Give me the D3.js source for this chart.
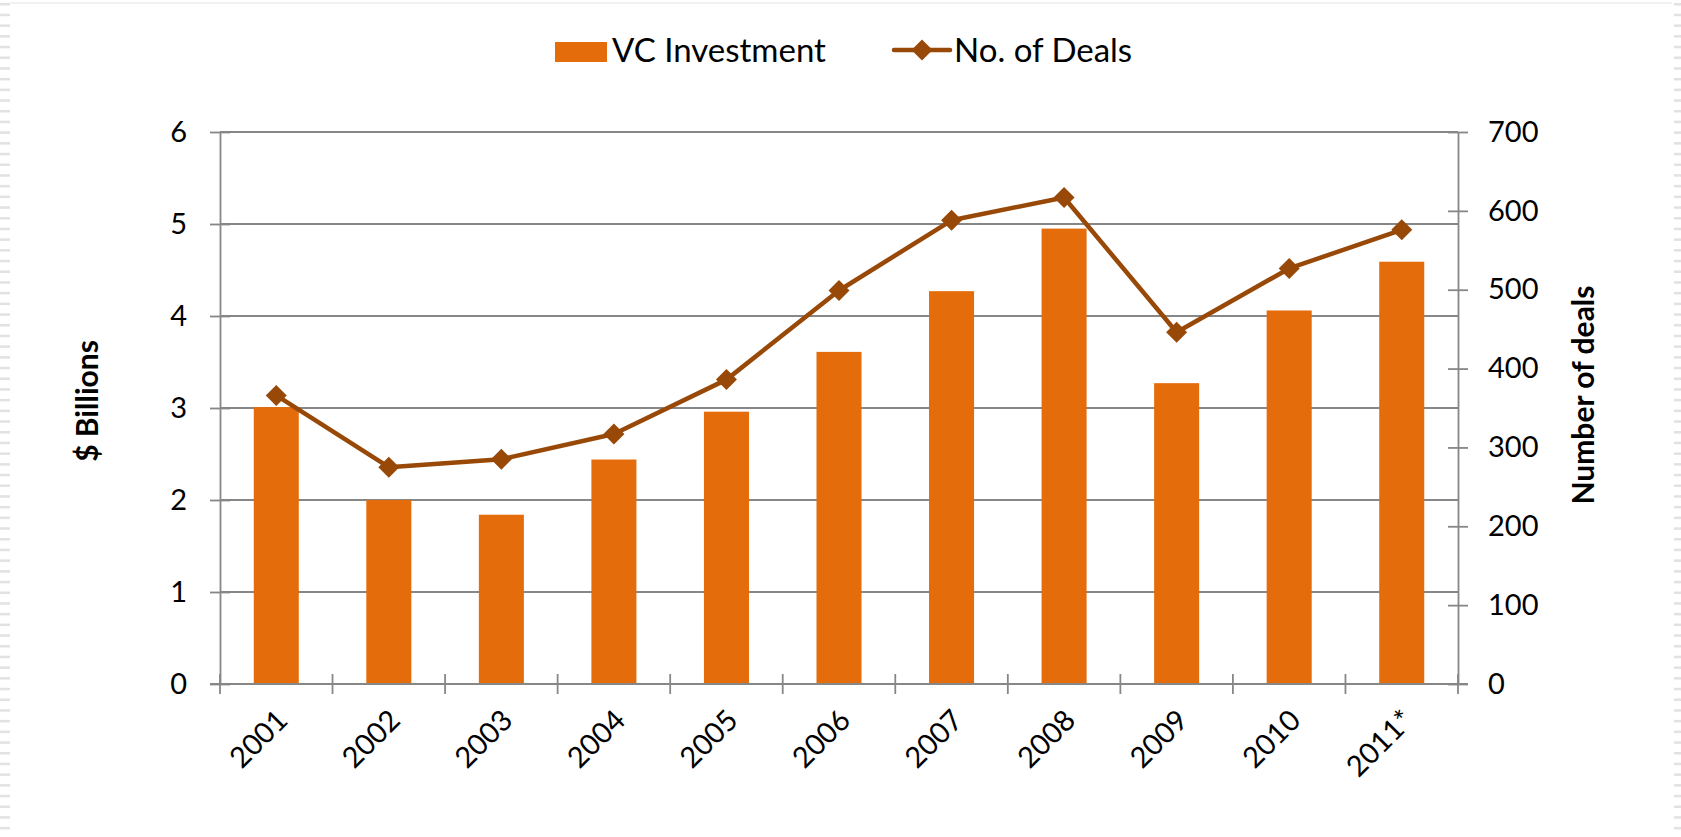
<!DOCTYPE html>
<html>
<head>
<meta charset="utf-8">
<script src="https://cdn.jsdelivr.net/npm/d3@7"></script>
<style>
  html, body { margin: 0; padding: 0; background: #ffffff; }
  svg { display: block; }
  text { font-family: Lato, "Liberation Sans", sans-serif; fill: #000; }
</style>
</head>
<body>
<script>
// ---- data ----
const categories = ["2001", "2002", "2003", "2004", "2005", "2006", "2007", "2008", "2009", "2010", "2011*"];
const vcInvestment = [3.01, 2.00, 1.84, 2.44, 2.96, 3.61, 4.27, 4.95, 3.27, 4.06, 4.59];
const numDeals = [366, 275, 285, 317, 386, 499, 588, 617, 446, 527, 576];
const leftTicks = [0, 1, 2, 3, 4, 5, 6];
const rightTicks = [0, 100, 200, 300, 400, 500, 600, 700];
const seriesNames = ["VC Investment", "No. of Deals"];
const axisTitles = ["$ Billions", "Number of deals"];

// ---- layout ----
const W = 1681, H = 837;
const plot = { left: 220, right: 1458, top: 132, bottom: 684 };
const barColor = "#E46C0A";
const lineColor = "#984807";
const gridColor = "#878787";
const tickFont = 29;

const svg = d3.select("body").append("svg").attr("width", W).attr("height", H);

// frame decorations (light border artifacts)
const deco = svg.append("g");
deco.append("line").attr("x1", 10).attr("x2", W - 9).attr("y1", 3).attr("y2", 3)
  .attr("stroke", "#ececec").attr("stroke-width", 1.5);
const dashYs = d3.range(3, H, 10.7);
deco.selectAll("rect.dl").data(dashYs).enter().append("rect")
  .attr("x", 0).attr("y", d => d).attr("width", 10).attr("height", 2.5).attr("fill", "#e2e2e2");
deco.selectAll("rect.dr").data(dashYs).enter().append("rect")
  .attr("x", W - 7).attr("y", d => d).attr("width", 7).attr("height", 2.5).attr("fill", "#e2e2e2");

// ---- scales ----
const x = d3.scaleBand().domain(categories).range([plot.left, plot.right]).paddingInner(0).paddingOuter(0);
const yL = d3.scaleLinear().domain([0, 6]).range([plot.bottom, plot.top]);
const yR = d3.scaleLinear().domain([0, 700]).range([plot.bottom, plot.top]);

// gridlines
svg.append("g").selectAll("line").data(leftTicks.filter(d => d > 0)).enter().append("line")
  .attr("x1", plot.left).attr("x2", plot.right)
  .attr("y1", d => yL(d)).attr("y2", d => yL(d))
  .attr("stroke", gridColor).attr("stroke-width", 1.8);

// bars
const barW = x.bandwidth() * 0.4;
svg.append("g").selectAll("rect").data(categories).enter().append("rect")
  .attr("x", d => x(d) + (x.bandwidth() - barW) / 2)
  .attr("width", barW)
  .attr("y", (d, i) => yL(vcInvestment[i]))
  .attr("height", (d, i) => plot.bottom - yL(vcInvestment[i]))
  .attr("fill", barColor);

// axes
function styleAxis(g) {
  g.select(".domain").attr("stroke", gridColor).attr("stroke-width", 1.8);
  g.selectAll(".tick line").attr("stroke", gridColor).attr("stroke-width", 1.8);
}

const axL = svg.append("g").attr("transform", `translate(${plot.left},0)`)
  .call(d3.axisLeft(yL).tickValues(leftTicks).tickFormat(d3.format("d")).tickSize(10).tickSizeOuter(0).tickPadding(23));
axL.selectAll(".tick line").attr("x1", -10).attr("x2", 10);
axL.selectAll(".tick text").attr("font-size", tickFont).attr("font-family", "Lato").attr("fill", "#000");
styleAxis(axL);

const axR = svg.append("g").attr("transform", `translate(${plot.right},0)`)
  .call(d3.axisRight(yR).tickValues(rightTicks).tickFormat(d3.format("d")).tickSize(10).tickSizeOuter(0).tickPadding(20));
axR.selectAll(".tick line").attr("x1", -10).attr("x2", 10);
axR.selectAll(".tick text").attr("font-size", tickFont).attr("font-family", "Lato").attr("fill", "#000");
styleAxis(axR);

const boundaries = categories.map(c => x(c)).concat([plot.right]);
const axB = svg.append("g").attr("transform", `translate(0,${plot.bottom})`);
axB.append("line").attr("x1", plot.left - 10).attr("x2", plot.right + 10)
  .attr("y1", 0).attr("y2", 0).attr("stroke", gridColor).attr("stroke-width", 1.8);
axB.selectAll("line.tk").data(boundaries).enter().append("line")
  .attr("x1", d => d).attr("x2", d => d).attr("y1", -10).attr("y2", 10)
  .attr("stroke", gridColor).attr("stroke-width", 1.8);
axB.selectAll("text").data(categories).enter().append("text")
  .attr("transform", d => `translate(${x(d) + x.bandwidth() / 2 + 5},${30}) rotate(-45)`)
  .attr("text-anchor", "end").attr("dominant-baseline", "central")
  .attr("font-size", tickFont).text(d => d);

// line series
const cx = d => x(d) + x.bandwidth() / 2;
const line = d3.line().x((d, i) => cx(categories[i])).y(d => yR(d));
svg.append("path").datum(numDeals).attr("d", line)
  .attr("fill", "none").attr("stroke", lineColor).attr("stroke-width", 4.5).attr("stroke-linejoin", "round");
svg.append("g").selectAll("path").data(numDeals).enter().append("path")
  .attr("d", "M0,-10.5L10.5,0L0,10.5L-10.5,0Z")
  .attr("transform", (d, i) => `translate(${cx(categories[i])},${yR(d)})`)
  .attr("fill", lineColor);

// axis titles
svg.append("text").attr("transform", "translate(86,401) rotate(-90)")
  .attr("text-anchor", "middle").attr("dominant-baseline", "central")
  .attr("font-size", 30).attr("font-weight", "bold").text(axisTitles[0]);
svg.append("text").attr("transform", "translate(1582,395) rotate(-90)")
  .attr("text-anchor", "middle").attr("dominant-baseline", "central")
  .attr("font-size", 30).attr("font-weight", "bold").text(axisTitles[1]);

// legend
const lg = svg.append("g");
lg.append("rect").attr("x", 555).attr("y", 42).attr("width", 52).attr("height", 20).attr("fill", barColor);
lg.append("text").attr("x", 612).attr("y", 62).attr("font-size", 33).text(seriesNames[0]);
lg.append("line").attr("x1", 894).attr("x2", 950).attr("y1", 50).attr("y2", 50)
  .attr("stroke", lineColor).attr("stroke-width", 4.5).attr("stroke-linecap", "round");
lg.append("path").attr("d", "M0,-10.5L10.5,0L0,10.5L-10.5,0Z")
  .attr("transform", "translate(922,50)").attr("fill", lineColor);
lg.append("text").attr("x", 954).attr("y", 62).attr("font-size", 33).text(seriesNames[1]);
</script>
</body>
</html>
